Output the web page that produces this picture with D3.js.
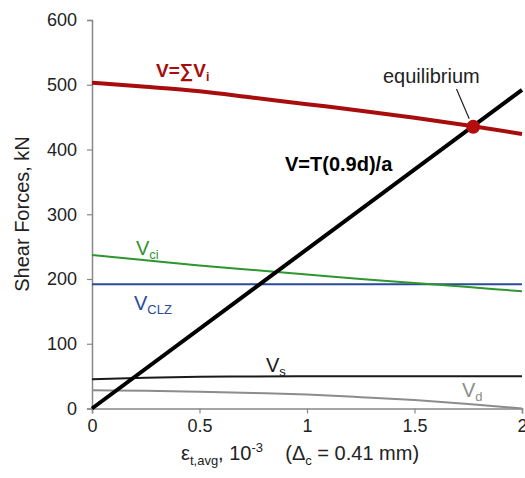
<!DOCTYPE html>
<html>
<head>
<meta charset="utf-8">
<script src="https://cdn.jsdelivr.net/npm/d3@7"></script>
<style>
  html, body { margin: 0; padding: 0; background: #fff; }
  svg { display: block; font-family: "Liberation Sans", Arial, sans-serif; }
</style>
</head>
<body>
<svg id="chart" width="525" height="478"></svg>
<script>
// Average tensile strain (x 10^-3)
const strain = [0, 0.25, 0.5, 0.75, 1, 1.25, 1.5, 1.75, 2];
// Shear components, kN
const vTotal = [503, 497, 490, 480, 470, 460, 449, 437, 424];
const vCi    = [237, 229, 221, 214, 207, 200, 194, 187.5, 181];
const vClz   = [192, 192, 192, 192, 192, 192, 192, 192, 192];
const vS     = [45, 47.5, 49, 49.5, 50, 50, 50, 50, 50];
const vD     = [28, 27.5, 26, 24, 21.5, 17.5, 13, 7, 0];
// Shear demand from tension: V = T(0.9d)/a
const demandStrain = [0, 2];
const demandV      = [0, 492];
// Intersection of capacity and demand
const equilibrium = { strain: 1.773, v: 435 };

const xTicks = [0, 0.5, 1, 1.5, 2];
const yTicks = [0, 100, 200, 300, 400, 500, 600];

const svg = d3.select("#chart");
const x = d3.scaleLinear().domain([0, 2]).range([92, 522]);
const y = d3.scaleLinear().domain([0, 600]).range([408.5, 20]);
const axisColor = "#888";

// Axes
const gx = svg.append("g").attr("transform", `translate(0,${y(0)})`)
  .call(d3.axisBottom(x).tickValues(xTicks).tickSize(5).tickPadding(6)
        .tickFormat(d => String(d)));
const gy = svg.append("g").attr("transform", `translate(${x(0)},0)`)
  .call(d3.axisLeft(y).tickValues(yTicks).tickSize(5).tickPadding(10));
[gx, gy].forEach(g => {
  g.select(".domain").attr("stroke", axisColor).attr("stroke-width", 1.5);
  g.selectAll(".tick line").attr("stroke", axisColor).attr("stroke-width", 1.2);
  g.selectAll(".tick text").attr("fill", "#222").style("font-size", "18px")
    .style("font-family", "Liberation Sans, Arial, sans-serif");
});

// Series
const line = d3.line().x(d => x(d[0])).y(d => y(d[1])).curve(d3.curveMonotoneX);
const pairs = vals => strain.map((s, i) => [s, vals[i]]);

const series = [
  { vals: vD,     color: "#8c8c8c", width: 2 },
  { vals: vS,     color: "#1a1a1a", width: 2 },
  { vals: vClz,   color: "#2a4a9c", width: 2 },
  { vals: vCi,    color: "#2e962e", width: 2 },
  { vals: vTotal, color: "#a80d0d", width: 4 }
];
series.forEach(s => {
  svg.append("path").datum(pairs(s.vals))
    .attr("fill", "none").attr("stroke", s.color)
    .attr("stroke-width", s.width).attr("d", line);
});

svg.append("path")
  .datum(demandStrain.map((s, i) => [s, demandV[i]]))
  .attr("fill", "none").attr("stroke", "#000").attr("stroke-width", 4)
  .attr("d", d3.line().x(d => x(d[0])).y(d => y(d[1])));

// Equilibrium marker and leader
svg.append("line")
  .attr("x1", 456.5).attr("y1", 89).attr("x2", x(equilibrium.strain) - 4).attr("y2", y(equilibrium.v) - 8)
  .attr("stroke", "#222").attr("stroke-width", 1.2);
svg.append("circle")
  .attr("cx", x(equilibrium.strain)).attr("cy", y(equilibrium.v)).attr("r", 7)
  .attr("fill", "#b50d0d");

// Labels
function label(xp, yp, parts, opts) {
  const t = svg.append("text").attr("x", xp).attr("y", yp)
    .attr("fill", opts.color).style("font-size", opts.size + "px")
    .style("font-weight", opts.bold ? "bold" : "normal");
  parts.forEach(p => {
    const ts = t.append("tspan").text(p.t);
    if (p.sub) ts.attr("dy", p.dy || 4).style("font-size", (opts.size * 0.65) + "px");
  });
  return t;
}

label(156, 77, [{ t: "V=∑V" }, { t: "i", sub: true }], { color: "#a80d0d", size: 19, bold: true });
label(285, 171, [{ t: "V=T(0.9d)/a" }], { color: "#000", size: 20, bold: true });
label(383, 83, [{ t: "equilibrium" }], { color: "#222", size: 20 });
label(136, 255, [{ t: "V" }, { t: "ci", sub: true }], { color: "#2e962e", size: 20 });
label(134, 310, [{ t: "V" }, { t: "CLZ", sub: true }], { color: "#2a4a9c", size: 20 });
label(266, 372, [{ t: "V" }, { t: "s", sub: true }], { color: "#1a1a1a", size: 20 });
label(462, 397, [{ t: "V" }, { t: "d", sub: true }], { color: "#8c8c8c", size: 20 });

// Axis titles
svg.append("text")
  .attr("transform", "translate(29,214) rotate(-90)")
  .attr("text-anchor", "middle").attr("fill", "#222").style("font-size", "20px")
  .text("Shear Forces, kN");

const xt = svg.append("text").attr("x", 181).attr("y", 460)
  .attr("fill", "#222").style("font-size", "20px").attr("xml:space", "preserve");
xt.append("tspan").text("ε");
xt.append("tspan").text("t,avg").attr("dy", 5).style("font-size", "13px");
xt.append("tspan").text(", 10").attr("dy", -5);
xt.append("tspan").text("-3").attr("dy", -8).style("font-size", "13px");
xt.append("tspan").text("    (Δ").attr("dy", 8);
xt.append("tspan").text("c").attr("dy", 5).style("font-size", "13px");
xt.append("tspan").text(" = 0.41 mm)").attr("dy", -5);
</script>
</body>
</html>
